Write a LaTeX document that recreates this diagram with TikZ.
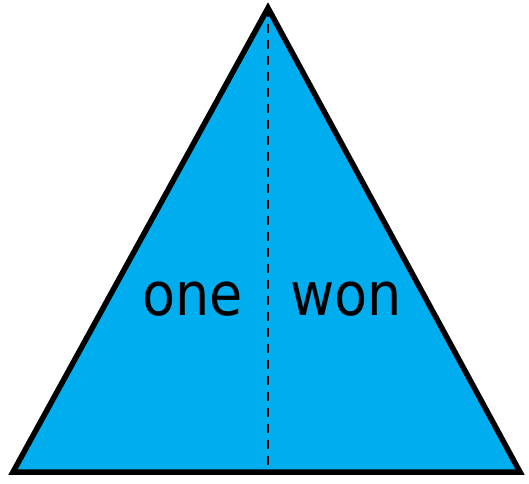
\documentclass[tikz,border=0pt]{standalone}
\usepackage{fontspec}
\setmainfont{DejaVu Sans Condensed}
\definecolor{tri}{HTML}{00AEEF}
\begin{document}
\begin{tikzpicture}[x=1pt,y=-1pt,
  lbl/.style={font=\fontsize{60}{70}\selectfont, inner sep=0pt, anchor=base}]
\useasboundingbox (0,0) rectangle (529,483);
\coordinate (A) at (268,8);
\coordinate (L) at (13,472);
\coordinate (R) at (520,472);
\coordinate (M) at (268,472);
\draw[fill=tri, line width=5.5pt, line join=miter] (A) -- (R) -- (L) -- cycle;
\draw[line width=2pt, dash pattern=on 9pt off 7pt] (A) -- (M);
\node[lbl] (one) at (193,315) {one};
\node[lbl] (won) at (346,315) {won};
\end{tikzpicture}
\end{document}
